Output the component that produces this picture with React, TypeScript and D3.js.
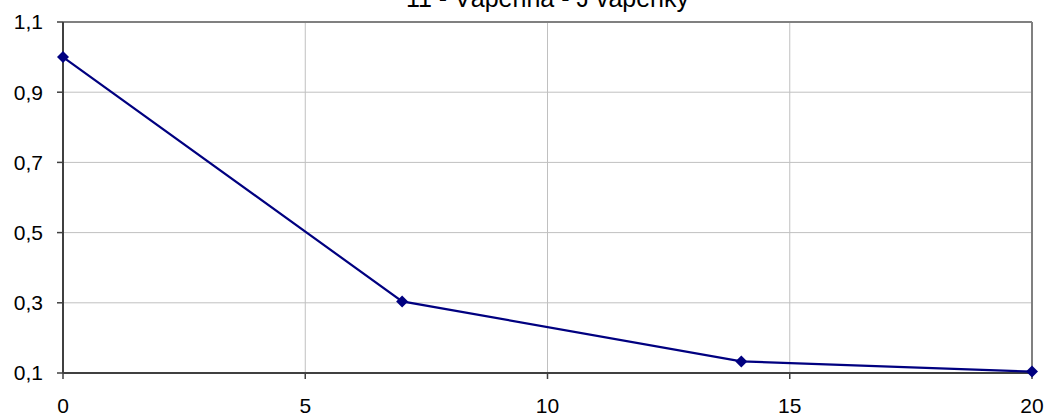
import React from "react";
import * as d3 from "d3";

const xValues = [0, 7, 14, 20];
const yValues = [1.0, 0.304, 0.133, 0.104];
const xTicks = [0, 5, 10, 15, 20];
const yTicks = [0.1, 0.3, 0.5, 0.7, 0.9, 1.1];
const title = "11 - Vápenná - J vápenky";

const W = 1049;
const H = 418;
const M = { left: 63, right: 1032, top: 22, bottom: 373 };

export default function App() {
  const x = d3.scaleLinear().domain([0, 20]).range([M.left, M.right]);
  const y = d3.scaleLinear().domain([0.1, 1.1]).range([M.bottom, M.top]);
  const line = d3
    .line<number>()
    .x((_, i) => x(xValues[i]))
    .y((d) => y(d));
  const fmt = (v: number) => d3.format(".1f")(v).replace(".", ",");
  const font = "Arial, 'Liberation Sans', sans-serif";
  return (
    <svg
      width={W}
      height={H}
      style={{ position: "absolute", left: 0, top: 0, background: "#fff" }}
    >
      <text
        x={(M.left + M.right) / 2}
        y={6.5}
        textAnchor="middle"
        fontFamily={font}
        fontSize={25}
        fill="#000"
      >
        {title}
      </text>
      {yTicks.map((t) => (
        <line
          key={"gy" + t}
          x1={M.left}
          x2={M.right}
          y1={y(t)}
          y2={y(t)}
          stroke="#c0c0c0"
          strokeWidth={1}
        />
      ))}
      {xTicks.map((t) => (
        <line
          key={"gx" + t}
          x1={x(t)}
          x2={x(t)}
          y1={M.top}
          y2={M.bottom}
          stroke="#c0c0c0"
          strokeWidth={1}
        />
      ))}
      <line x1={M.left} x2={M.right} y1={M.top} y2={M.top} stroke="#808080" strokeWidth={2} />
      <line x1={M.right} x2={M.right} y1={M.top} y2={M.bottom} stroke="#808080" strokeWidth={2} />
      <line x1={M.left} x2={M.left} y1={M.top} y2={M.bottom} stroke="#404040" strokeWidth={2} />
      <line x1={M.left} x2={M.right} y1={M.bottom} y2={M.bottom} stroke="#404040" strokeWidth={2} />
      {yTicks.map((t) => (
        <g key={"ty" + t}>
          <line x1={M.left - 6} x2={M.left} y1={y(t)} y2={y(t)} stroke="#404040" strokeWidth={1.5} />
          <text
            x={43}
            y={y(t)}
            dy="0.35em"
            textAnchor="end"
            fontFamily={font}
            fontSize={21}
            fill="#000"
          >
            {fmt(t)}
          </text>
        </g>
      ))}
      {xTicks.map((t) => (
        <g key={"tx" + t}>
          <line x1={x(t)} x2={x(t)} y1={M.bottom} y2={M.bottom + 6} stroke="#404040" strokeWidth={1.5} />
          <text
            x={x(t)}
            y={413}
            textAnchor="middle"
            fontFamily={font}
            fontSize={21}
            fill="#000"
          >
            {t}
          </text>
        </g>
      ))}
      <path d={line(yValues) || ""} fill="none" stroke="#000080" strokeWidth={2.2} />
      {yValues.map((v, i) => {
        const cx = x(xValues[i]);
        const cy = y(v);
        const r = 6;
        return (
          <path
            key={"m" + i}
            d={`M${cx},${cy - r}L${cx + r},${cy}L${cx},${cy + r}L${cx - r},${cy}Z`}
            fill="#000080"
          />
        );
      })}
    </svg>
  );
}
